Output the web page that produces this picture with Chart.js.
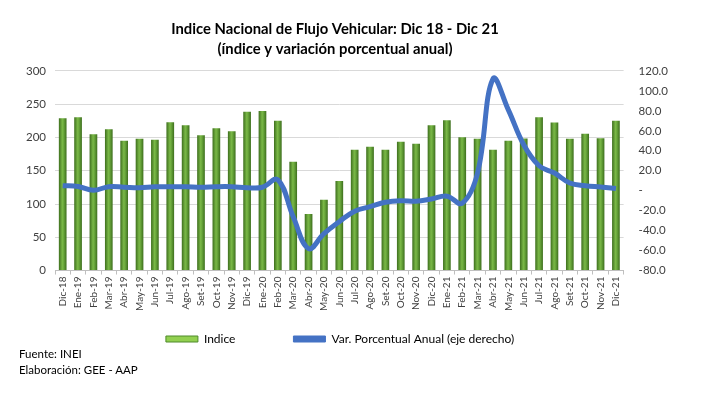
<!DOCTYPE html>
<html>
<head>
<meta charset="utf-8">
<script src="https://cdn.jsdelivr.net/npm/chart.js@4"></script>
<style>
  body { margin: 0; background: #fff; }
  #wrap { position: relative; width: 712px; height: 394px; }
  #foot { position: absolute; left: 19px; top: 346px; font: 11.5px Lato, sans-serif; color: #000; line-height: 16px; }
</style>
</head>
<body>
<div id="wrap">
  <canvas id="myChart" width="712" height="394"></canvas>
  <div id="foot">Fuente: INEI<br>Elaboración: GEE - AAP</div>
</div>
<script>
const meses = ['Dic-18','Ene-19','Feb-19','Mar-19','Abr-19','May-19','Jun-19','Jul-19','Ago-19','Set-19','Oct-19','Nov-19',
  'Dic-19','Ene-20','Feb-20','Mar-20','Abr-20','May-20','Jun-20','Jul-20','Ago-20','Set-20','Oct-20','Nov-20',
  'Dic-20','Ene-21','Feb-21','Mar-21','Abr-21','May-21','Jun-21','Jul-21','Ago-21','Set-21','Oct-21','Nov-21','Dic-21']

const indice = [229, 230.5, 205, 212.5, 195, 198, 196.5, 223, 218.5, 203.5, 214, 209.5,
  238.5, 240, 225, 163.5, 85, 106.5, 134.5, 181.5, 186, 181.5, 193.5, 190.5,
  218.5, 226, 200.5, 198, 181.5, 195, 198.5, 230.5, 222.5, 198, 205.5, 199, 225]

const variacion = [5, 4.3, 0.5, 4, 3.5, 3, 4, 4, 4, 3.5, 4, 4,
  3, 3.5, 11, -26, -58, -43, -31, -20.5, -16, -11.5, -10, -10.5,
  -8.3, -5.5, -12.5, 18, 112, 81, 46, 25, 17.7, 7.7, 5, 3.7, 2.3]

const ctx = document.getElementById('myChart').getContext('2d')
const fuente = 'Lato, "Noto Sans", sans-serif'

// degradado horizontal para cada barra (efecto cilindro)
function barColor(c){
  const chart = c.chart
  const x = chart.scales.x
  if(!chart.chartArea || !x || c.dataIndex === undefined) return '#5e9a33'
  const cx = x.getPixelForValue(c.dataIndex)
  const g = chart.ctx.createLinearGradient(cx - 4, 0, cx + 4, 0)
  g.addColorStop(0, '#3a6b1b')
  g.addColorStop(0.45, '#7ab847')
  g.addColorStop(0.6, '#6caa3d')
  g.addColorStop(1, '#3a6b1b')
  return g
}

// la leyenda usa padding grande para separar items; la subo para que quede pegada al eje
// y corro titulo y leyenda un poco a la izquierda como en el original
const moverCajas = {
  id: 'moverCajas',
  afterLayout(chart){
    const lg = chart.legend
    if(lg){
      lg.top -= 38
      lg.bottom -= 38
      lg.left -= 10
      lg.right -= 10
    }
    const t = chart.titleBlock
    if(t){
      t.left -= 15
      t.right -= 15
    }
  }
}

const myChart = new Chart(ctx, {
  type: 'bar',
  data: {
    labels: meses,
    datasets: [{
      label: 'Indice',
      data: indice,
      backgroundColor: barColor,
      borderWidth: 0,
      categoryPercentage: 1,
      barPercentage: 0.5,
      yAxisID: 'y',
      order: 1
    },
    {
      type: 'line',
      label: 'Var. Porcentual Anual (eje derecho)',
      data: variacion,
      borderColor: '#4472C4',
      backgroundColor: '#4472C4',
      borderWidth: 5,
      tension: 0.4,
      pointRadius: 0,
      yAxisID: 'y1',
      order: 0
    }]
  },
  plugins: [moverCajas],
  options: {
    responsive: false,
    animation: false,
    layout: { padding: { left: 17, right: 29, top: 0, bottom: 1 } },
    plugins: {
      title: {
        display: true,
        text: ['Indice Nacional de Flujo Vehicular: Dic 18 - Dic 21', '(índice y variación porcentual anual)'],
        color: '#000',
        font: { family: fuente, size: 14.8, weight: 'bold', lineHeight: 1.35 },
        padding: { top: 19, bottom: 12 }
      },
      legend: {
        position: 'bottom',
        labels: {
          color: '#000',
          font: { family: fuente, size: 12 },
          boxWidth: 32,
          boxHeight: 6,
          padding: 58,
          sort: (a, b) => a.datasetIndex - b.datasetIndex,
          generateLabels: (chart) => chart.data.datasets.map((ds, i) => ({
            text: ds.label,
            datasetIndex: i,
            fillStyle: i === 0 ? '#92D050' : '#4472C4',
            strokeStyle: i === 0 ? '#4e8a2a' : '#4472C4',
            lineWidth: 1,
            hidden: false
          }))
        }
      },
      tooltip: { enabled: false }
    },
    scales: {
      x: {
        offset: true,
        grid: { display: true, drawOnChartArea: false, offset: true, tickLength: 4, color: '#bfbfbf' },
        border: { color: '#bfbfbf' },
        ticks: { color: '#404040', font: { family: fuente, size: 10 }, minRotation: 90, maxRotation: 90, autoSkip: false, padding: 2 }
      },
      y: {
        position: 'left',
        min: 0, max: 300,
        ticks: { stepSize: 50, color: '#404040', font: { family: fuente, size: 11.5 }, padding: 9 },
        grid: { color: '#d9d9d9', drawTicks: false },
        border: { display: false }
      },
      y1: {
        position: 'right',
        min: -80, max: 120,
        ticks: {
          stepSize: 20, autoSkip: false, color: '#404040', font: { family: fuente, size: 11.5 }, padding: 15,
          callback: (v) => v === 0 ? '-' : v.toFixed(1)
        },
        grid: { display: false, drawTicks: false },
        border: { display: false }
      }
    }
  }
})
</script>
</body>
</html>
